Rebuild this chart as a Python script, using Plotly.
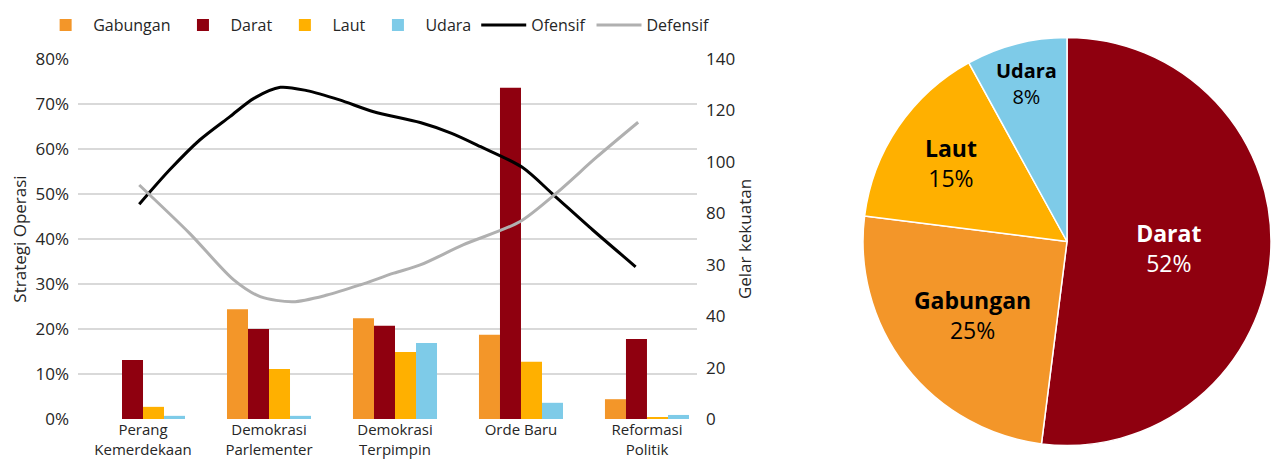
import plotly.graph_objects as go

W, H = 1271, 461

periods = ["Perang<br>Kemerdekaan", "Demokrasi<br>Parlementer", "Demokrasi<br>Terpimpin", "Orde Baru", "Reformasi<br>Politik"]
period_pos = [0, 1, 2, 3, 4]

gabungan = [0.000, 0.244, 0.224, 0.187, 0.044]
darat = [0.131, 0.200, 0.207, 0.736, 0.178]
laut = [0.027, 0.111, 0.149, 0.127, 0.004]
udara = [0.007, 0.007, 0.169, 0.036, 0.009]

ofensif_x = [-0.03, 0.21, 0.45, 0.69, 0.88, 1.09, 1.30, 1.56, 1.83, 2.20, 2.45, 2.68, 3.01, 3.26, 3.57, 3.91]
ofensif_y = [83.5, 96.8, 108.5, 117.6, 124.7, 129.0, 127.7, 124.1, 119.5, 115.3, 111.1, 105.9, 97.9, 87.1, 73.5, 59.2]
defensif_x = [-0.03, 0.37, 0.72, 0.93, 1.19, 1.46, 1.72, 1.99, 2.20, 2.54, 2.99, 3.28, 3.60, 3.93]
defensif_y = [91.0, 72.2, 54.1, 47.6, 45.6, 48.2, 52.1, 56.7, 59.9, 67.7, 76.7, 87.8, 101.8, 115.4]

y2_ticks = [0, 20, 40, 60, 80, 100, 120, 140]
y2_ticktext = ["0", "20", "40", "30", "80", "100", "120", "140"]

pie_labels = ["Darat", "Gabungan", "Laut", "Udara"]
pie_values = [52, 25, 15, 8]

C_GAB = "#F39629"
C_DAR = "#8F000F"
C_LAU = "#FFB000"
C_UDA = "#7ECBE8"
C_OFF = "#000000"
C_DEF = "#B0B0B0"

FONT = "Open Sans"
TXT = "#262626"

fig = go.Figure()
for name, vals, col in [("Gabungan", gabungan, C_GAB), ("Darat", darat, C_DAR),
                        ("Laut", laut, C_LAU), ("Udara", udara, C_UDA)]:
    fig.add_trace(go.Bar(x=period_pos, y=vals, name=name, marker=dict(color=col, line=dict(width=0)),
                         xaxis="x", yaxis="y"))

fig.add_trace(go.Scatter(x=ofensif_x, y=ofensif_y, name="Ofensif", mode="lines",
                         line=dict(color=C_OFF, width=3, shape="spline", smoothing=0.8),
                         xaxis="x", yaxis="y2"))
fig.add_trace(go.Scatter(x=defensif_x, y=defensif_y, name="Defensif", mode="lines",
                         line=dict(color=C_DEF, width=3, shape="spline", smoothing=0.8),
                         xaxis="x", yaxis="y2"))

fig.add_trace(go.Pie(labels=pie_labels, values=pie_values, sort=False, direction="clockwise",
                     rotation=0, showlegend=False,
                     marker=dict(colors=[C_DAR, C_GAB, C_LAU, C_UDA], line=dict(color="white", width=1.5)),
                     texttemplate="<b>%{label}</b><br>%{percent:.0%}", textposition="inside",
                     insidetextorientation="horizontal",
                     insidetextfont=dict(family=FONT, size=23, color=["white", "black", "black", "black"]),
                     domain=dict(x=[863 / W, 1.0], y=[11 / H, 428 / H])))

x0, x1 = 78 / W, 697 / W
fig.update_layout(
    template="none",
    width=W, height=H,
    margin=dict(l=0, r=0, t=0, b=0),
    paper_bgcolor="white", plot_bgcolor="white",
    font=dict(family=FONT, color=TXT, size=16),
    barmode="group", bargap=0.333, bargroupgap=0,
    xaxis=dict(domain=[x0, x1], range=[-0.516, 4.397], tickvals=period_pos, ticktext=periods,
               showgrid=False, zeroline=False, showline=False, ticks="", automargin=False,
               tickfont=dict(size=15, color=TXT)),
    yaxis=dict(domain=[42 / H, 402 / H], range=[0, 0.8], dtick=0.1, tickformat=".0%",
               showgrid=True, gridcolor="#D9D9D9", gridwidth=1.5, zeroline=False, showline=False,
               ticks="", automargin=False, ticklabelstandoff=8,
               title=dict(text="Strategi Operasi", font=dict(size=17, color=TXT), standoff=4),
               tickfont=dict(size=17, color=TXT)),
    yaxis2=dict(overlaying="y", side="right", range=[0, 140], tickvals=y2_ticks, ticktext=y2_ticktext,
                showgrid=False, zeroline=False, showline=False, ticks="", automargin=False,
                ticklabelstandoff=8,
                title=dict(text="Gelar kekuatan", font=dict(size=17, color=TXT), standoff=4),
                tickfont=dict(size=17, color=TXT)),
    legend=dict(orientation="h", x=0.03, y=1 - 8 / H, xanchor="left", yanchor="top",
                font=dict(size=16, color=TXT), traceorder="normal", itemwidth=45),
)

fig.write_html("out.html", config={"displayModeBar": False},
               post_script="document.body.style.margin='0';document.body.style.overflow='hidden';")
